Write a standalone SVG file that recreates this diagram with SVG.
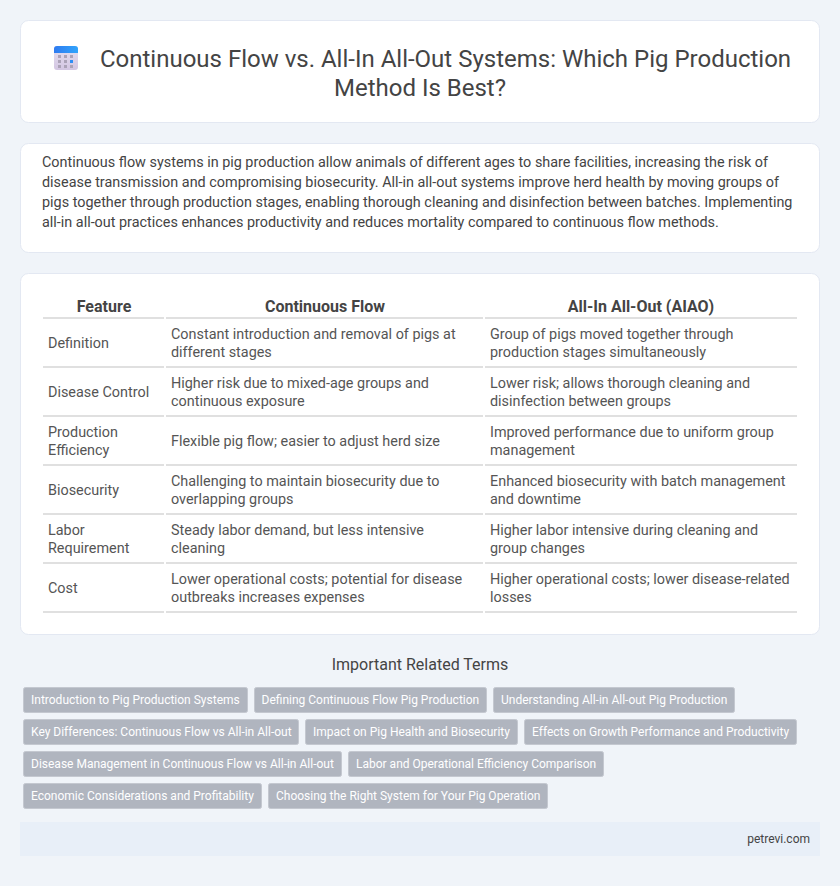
<svg xmlns="http://www.w3.org/2000/svg" width="840" height="886" viewBox="0 0 840 886">
<defs>
<linearGradient id="ic" x1="0" y1="0" x2="0" y2="1"><stop offset="0" stop-color="#e6e0f0"/><stop offset="1" stop-color="#d3c6e2"/></linearGradient>
<linearGradient id="ib" x1="0" y1="0" x2="1" y2="0"><stop offset="0" stop-color="#2f7bf0"/><stop offset="1" stop-color="#31a4fb"/></linearGradient>
</defs>
<style>
text{font-family:Roboto,"Liberation Sans",sans-serif}
.card{fill:#fff;stroke:#e3e8f2;stroke-width:1}
.h1{font-size:24px;fill:#444;text-anchor:middle}
.p{font-size:14.4px;fill:#444}
.th{font-size:16px;font-weight:700;fill:#444;text-anchor:middle}
.td{font-size:14.4px;fill:#555}
.ln{stroke:#e0e0e0;stroke-width:2;fill:none}
.tag{fill:#b0b5bf;stroke:#c4c8d0;stroke-width:1}
.tt{font-size:12px;fill:#fff}
.g{fill:#aca3b8}
</style>
<rect width="840" height="886" fill="#f0f4f9"/>
<g id="header">
<rect class="card" x="20.500" y="20.500" width="799" height="102" rx="8"/>
<g id="icon">
<rect x="54" y="46" width="24" height="24" rx="3" fill="url(#ic)"/>
<path d="M54 53V49a3 3 0 0 1 3-3H75a3 3 0 0 1 3 3V53Z" fill="url(#ib)"/>
<rect class="g" x="58" y="55" width="3" height="3"/><rect class="g" x="64" y="55" width="3" height="3"/><rect class="g" x="70" y="55" width="3" height="3"/>
<rect class="g" x="58" y="60" width="3" height="3"/><rect class="g" x="64" y="60" width="3" height="3"/><rect x="70" y="60" width="3" height="3" fill="#2f8ef5"/>
<rect class="g" x="58" y="65" width="3" height="3"/><rect class="g" x="64" y="65" width="3" height="3"/><rect class="g" x="70" y="65" width="3" height="3"/>
</g>
<text class="h1" x="445.500" y="67">Continuous Flow vs. All-In All-Out Systems: Which Pig Production</text>
<text class="h1" x="420" y="96">Method Is Best?</text>
</g>
<g id="intro">
<rect class="card" x="20.500" y="143.500" width="799" height="109" rx="8"/>
<text class="p" x="42" y="167">Continuous flow systems in pig production allow animals of different ages to share facilities, increasing the risk of</text>
<text class="p" x="42" y="187">disease transmission and compromising biosecurity. All-in all-out systems improve herd health by moving groups of</text>
<text class="p" x="42" y="207">pigs together through production stages, enabling thorough cleaning and disinfection between batches. Implementing</text>
<text class="p" x="42" y="227">all-in all-out practices enhances productivity and reduces mortality compared to continuous flow methods.</text>
</g>
<g id="table">
<rect class="card" x="20.500" y="273.500" width="799" height="361" rx="8"/>
<text class="th" x="104" y="312">Feature</text><text class="th" x="325" y="312">Continuous Flow</text><text class="th" x="641" y="312">All-In All-Out (AIAO)</text>
<g id="rules">
<path class="ln" d="M43 318H164M166 318H483M485 318H797M43 367H164M166 367H483M485 367H797M43 416H164M166 416H483M485 416H797M43 465H164M166 465H483M485 465H797M43 514H164M166 514H483M485 514H797M43 563H164M166 563H483M485 563H797M43 612H164M166 612H483M485 612H797"/>
</g>
<text class="td" x="48" y="348">Definition</text>
<text class="td" x="171" y="339">Constant introduction and removal of pigs at</text><text class="td" x="171" y="357">different stages</text>
<text class="td" x="490" y="339">Group of pigs moved together through</text><text class="td" x="490" y="357">production stages simultaneously</text>
<text class="td" x="48" y="397">Disease Control</text>
<text class="td" x="171" y="388">Higher risk due to mixed-age groups and</text><text class="td" x="171" y="406">continuous exposure</text>
<text class="td" x="490" y="388">Lower risk; allows thorough cleaning and</text><text class="td" x="490" y="406">disinfection between groups</text>
<text class="td" x="48" y="437">Production</text><text class="td" x="48" y="455">Efficiency</text>
<text class="td" x="171" y="446">Flexible pig flow; easier to adjust herd size</text>
<text class="td" x="490" y="437">Improved performance due to uniform group</text><text class="td" x="490" y="455">management</text>
<text class="td" x="48" y="495">Biosecurity</text>
<text class="td" x="171" y="486">Challenging to maintain biosecurity due to</text><text class="td" x="171" y="504">overlapping groups</text>
<text class="td" x="490" y="486">Enhanced biosecurity with batch management</text><text class="td" x="490" y="504">and downtime</text>
<text class="td" x="48" y="535">Labor</text><text class="td" x="48" y="553">Requirement</text>
<text class="td" x="171" y="535">Steady labor demand, but less intensive</text><text class="td" x="171" y="553">cleaning</text>
<text class="td" x="490" y="535">Higher labor intensive during cleaning and</text><text class="td" x="490" y="553">group changes</text>
<text class="td" x="48" y="593">Cost</text>
<text class="td" x="171" y="584">Lower operational costs; potential for disease</text><text class="td" x="171" y="602">outbreaks increases expenses</text>
<text class="td" x="490" y="584">Higher operational costs; lower disease-related</text><text class="td" x="490" y="602">losses</text>
</g>
<g id="related">
<text x="420" y="670" text-anchor="middle" font-size="16" fill="#444">Important Related Terms</text>
<rect class="tag" x="23.500" y="687.500" width="224" height="25" rx="2"/><text class="tt" x="31" y="704">Introduction to Pig Production Systems</text>
<rect class="tag" x="254.500" y="687.500" width="232" height="25" rx="2"/><text class="tt" x="261.500" y="704">Defining Continuous Flow Pig Production</text>
<rect class="tag" x="493.500" y="687.500" width="241" height="25" rx="2"/><text class="tt" x="501" y="704">Understanding All-in All-out Pig Production</text>
<rect class="tag" x="23.500" y="719.500" width="275" height="25" rx="2"/><text class="tt" x="31" y="736">Key Differences: Continuous Flow vs All-in All-out</text>
<rect class="tag" x="305.500" y="719.500" width="212" height="25" rx="2"/><text class="tt" x="313" y="736">Impact on Pig Health and Biosecurity</text>
<rect class="tag" x="524.500" y="719.500" width="272" height="25" rx="2"/><text class="tt" x="532" y="736">Effects on Growth Performance and Productivity</text>
<rect class="tag" x="23.500" y="751.500" width="318" height="25" rx="2"/><text class="tt" x="31" y="768">Disease Management in Continuous Flow vs All-in All-out</text>
<rect class="tag" x="348.500" y="751.500" width="255" height="25" rx="2"/><text class="tt" x="356" y="768">Labor and Operational Efficiency Comparison</text>
<rect class="tag" x="23.500" y="783.500" width="238" height="25" rx="2"/><text class="tt" x="31" y="800">Economic Considerations and Profitability</text>
<rect class="tag" x="268.500" y="783.500" width="279" height="25" rx="2"/><text class="tt" x="276" y="800">Choosing the Right System for Your Pig Operation</text>
</g>
<g id="footer">
<rect x="20" y="822" width="800" height="34" fill="#e8eff8"/>
<text x="810" y="843" text-anchor="end" font-size="12" fill="#444">petrevi.com</text>
</g>
</svg>
